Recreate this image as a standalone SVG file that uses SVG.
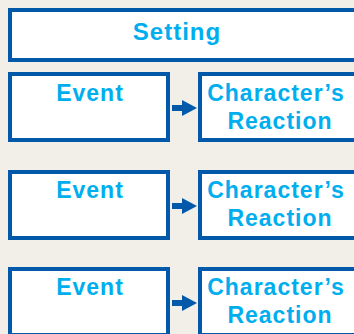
<svg xmlns="http://www.w3.org/2000/svg" width="354" height="334" viewBox="0 0 354 334">
  <style>
    .box { fill: #FFFFFF; stroke: #0259A9; stroke-width: 4; }
    .lbl { font-family: "Liberation Sans", Arial, sans-serif; font-weight: bold; font-size: 23px; fill: #00AEEF; text-anchor: middle; letter-spacing: 1px; }
    .big { font-size: 24px; }
    .conn { stroke: #0259A9; stroke-width: 6; fill: none; }
  </style>
  <defs>
    <marker id="arrow" markerUnits="userSpaceOnUse" markerWidth="15" markerHeight="16" viewBox="0 0 15 16" refX="0" refY="8" orient="auto">
      <path d="M0,0 L15,8 L0,16 Z" fill="#0259A9"/>
    </marker>
  </defs>
  <rect width="354" height="334" fill="#F2EEE8"/>

  <g id="setting">
    <rect class="box" x="10" y="10" width="350" height="50"/>
    <text class="lbl big" x="177" y="40">Setting</text>
  </g>

  <g id="event1">
    <rect class="box" x="10" y="74" width="158" height="66"/>
    <text class="lbl" x="90" y="101">Event</text>
  </g>
  <g id="reaction1">
    <rect class="box" x="200" y="74" width="160" height="66"/>
    <text class="lbl" x="276" y="101">Character’s</text>
    <text class="lbl" x="280" y="129">Reaction</text>
  </g>

  <g id="event2">
    <rect class="box" x="10" y="172" width="158" height="66"/>
    <text class="lbl" x="90" y="198">Event</text>
  </g>
  <g id="reaction2">
    <rect class="box" x="200" y="172" width="160" height="66"/>
    <text class="lbl" x="276" y="198">Character’s</text>
    <text class="lbl" x="280" y="226">Reaction</text>
  </g>

  <g id="event3">
    <rect class="box" x="10" y="269" width="158" height="66"/>
    <text class="lbl" x="90" y="295">Event</text>
  </g>
  <g id="reaction3">
    <rect class="box" x="200" y="269" width="160" height="66"/>
    <text class="lbl" x="276" y="295">Character’s</text>
    <text class="lbl" x="280" y="323">Reaction</text>
  </g>

  <g id="connectors">
    <line class="conn" x1="172" y1="108" x2="182" y2="108" marker-end="url(#arrow)"/>
    <line class="conn" x1="172" y1="206" x2="182" y2="206" marker-end="url(#arrow)"/>
    <line class="conn" x1="172" y1="303" x2="182" y2="303" marker-end="url(#arrow)"/>
  </g>
</svg>
